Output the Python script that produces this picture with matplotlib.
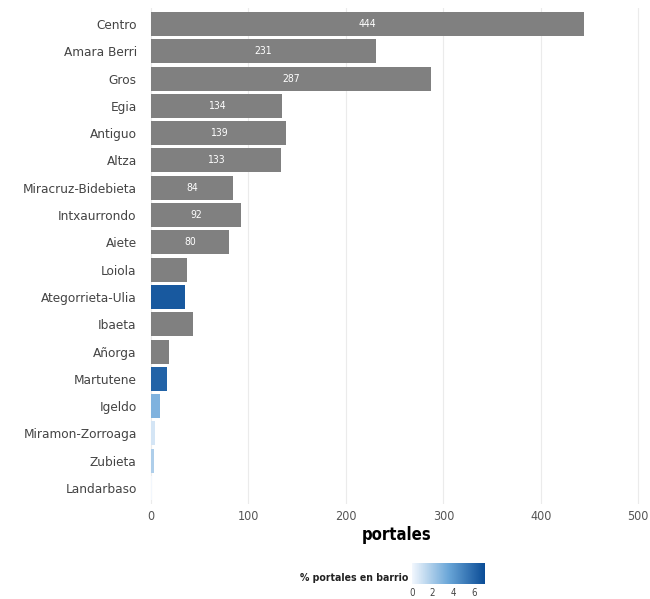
import numpy as np
import matplotlib.pyplot as plt
from matplotlib.colors import LinearSegmentedColormap, Normalize
from matplotlib.colorbar import ColorbarBase

plt.rcParams['font.family'] = ['DejaVu Sans']
plt.rcParams['font.stretch'] = 'condensed'

# Data
barrios = ["Centro", "Amara Berri", "Gros", "Egia", "Antiguo", "Altza",
           "Miracruz-Bidebieta", "Intxaurrondo", "Aiete", "Loiola",
           "Ategorrieta-Ulia", "Ibaeta", "Añorga", "Martutene", "Igeldo",
           "Miramon-Zorroaga", "Zubieta", "Landarbaso"]
portales = [444, 231, 287, 134, 139, 133, 84, 92, 80, 37, 35, 43, 18, 16, 9, 4, 3, 0.5]
etiquetas = ["444", "231", "287", "134", "139", "133", "84", "92", "80",
             "", "", "", "", "", "", "", "", ""]
pct_portales = [np.nan, np.nan, np.nan, np.nan, np.nan, np.nan, np.nan, np.nan,
                np.nan, np.nan, 6.6, np.nan, np.nan, 6.2, 3.0, 0.8, 1.8, 0.0]

cmap = LinearSegmentedColormap.from_list("blues", ["#f2f7fd", "#6aa6d8", "#0a4c96"])
norm = Normalize(vmin=0, vmax=7.1)

colors = ["#808080" if np.isnan(p) else cmap(norm(p)) for p in pct_portales]

fig = plt.figure(figsize=(6.5, 5.99), dpi=100)
ax = fig.add_axes([145 / 650, (599 - 504.4) / 599, 503 / 650, 496.8 / 599])

y = np.arange(len(barrios))
ax.barh(y, portales, height=0.88, color=colors, zorder=2)
for yi, v, lab in zip(y, portales, etiquetas):
    if lab:
        ax.text(v / 2, yi, lab, color="white", ha="center", va="center", fontsize=7.5, zorder=3)

ax.set_xlim(-6.2, 510)
ax.set_ylim(len(barrios) - 0.4, -0.6)
ax.set_yticks(y)
ax.set_yticklabels(barrios, fontsize=9.7, color="#444444")
ax.set_xticks([0, 100, 200, 300, 400, 500])
ax.tick_params(axis="x", labelsize=9, labelcolor="#555555", length=0, pad=4)
ax.tick_params(axis="y", length=0, pad=6)
ax.grid(axis="x", color="#ebebeb", linewidth=0.8, zorder=0)
for s in ax.spines.values():
    s.set_visible(False)
ax.set_xlabel("portales", fontsize=12, fontweight="bold", labelpad=2)

# Colour legend
cax = fig.add_axes([412 / 650, (599 - 584) / 599, 73 / 650, 21 / 599])
cb = ColorbarBase(cax, cmap=cmap, norm=norm, orientation="horizontal", ticks=[0, 2, 4, 6])
cb.outline.set_visible(False)
cax.tick_params(length=0, labelsize=7, labelcolor="#444444", pad=3)
fig.text(408 / 650, (599 - 578) / 599, "% portales en barrio", ha="right", va="center",
         fontsize=7.6, fontweight="bold", color="#222222")

fig.savefig("out.png", dpi=100)
